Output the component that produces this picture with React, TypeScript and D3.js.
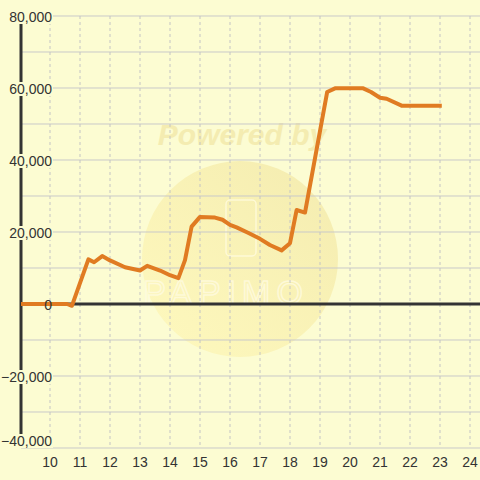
import React from "react";
import * as d3 from "d3";

const xs = [9.0, 10.57, 10.73, 11.28, 11.47, 11.74, 12.0, 12.5, 13.0, 13.24, 13.67, 14.0, 14.28, 14.5, 14.72, 15.0, 15.5, 15.75, 16.0, 16.22, 16.6, 17.0, 17.33, 17.72, 18.0, 18.22, 18.5, 19.24, 19.5, 20.0, 20.44, 20.7, 21.0, 21.22, 21.72, 22.0, 23.06];
const ys = [0, 0, -500, 12400, 11600, 13300, 12100, 10200, 9300, 10600, 9300, 8000, 7200, 12200, 21500, 24200, 24000, 23400, 22000, 21300, 19800, 18100, 16400, 14900, 16900, 26100, 25400, 58900, 59900, 59900, 59900, 58900, 57300, 57000, 55100, 55100, 55100];
const yTicks = [80000, 60000, 40000, 20000, 0, -20000, -40000];
const yMinor = [70000, 50000, 30000, 10000, -10000, -30000];
const xTicks = [10, 11, 12, 13, 14, 15, 16, 17, 18, 19, 20, 21, 22, 23, 24];

export default function App() {
  const W = 480, H = 480;
  const x = d3.scaleLinear().domain([10, 24]).range([50, 470]);
  const y = d3.scaleLinear().domain([-40000, 80000]).range([448, 16]);
  const fmt = d3.format(",");
  const data = xs.map((v, i) => [v, ys[i]] as [number, number]);
  const line = d3.line<[number, number]>().x(d => Math.max(x(d[0]), 21)).y(d => y(d[1]));
  const bg = "#fcfcd2";
  const font = "'Liberation Sans', Arial, sans-serif";
  const labelY = (t: number) => Math.min(y(t) + 1, 441);
  return (
    <svg width={W} height={H} style={{ position: "absolute", left: 0, top: 0 }} fontFamily={font}>
      <defs>
        <linearGradient id="wm" x1="0" y1="1" x2="1" y2="0">
          <stop offset="0" stopColor="#fff6b0" stopOpacity={0.6} />
          <stop offset="1" stopColor="#f1e6a4" stopOpacity={0.75} />
        </linearGradient>
      </defs>
      <rect x={0} y={0} width={W} height={H} fill={bg} />
      {/* watermark */}
      <circle cx={240} cy={259} r={98} fill="url(#wm)" />
      <text x={242} y={145} textAnchor="middle" fontSize={30} fontWeight="bold" fontStyle="italic" fill="#f4ecb0" opacity={0.95}>Powered by</text>
      <rect x={226} y={200} width={30} height={56} rx={4} fill="none" stroke="#fffbe0" strokeWidth={1.5} opacity={0.8} />
      <text x={226} y={304} textAnchor="middle" fontSize={34} fill="none" stroke="#fffbe0" strokeWidth={1.5} opacity={0.8} letterSpacing={6}>PAPIMO</text>
      {/* horizontal grid */}
      {yMinor.concat(yTicks).map(t => (
        <line key={"g" + t} x1={21} x2={W} y1={y(t)} y2={y(t)} stroke="#c9c9c9" strokeWidth={1} />
      ))}
      {/* vertical dashed grid */}
      {xTicks.map(t => (
        <line key={"v" + t} x1={x(t)} x2={x(t)} y1={16} y2={446} stroke="#c4c4c4" strokeWidth={1} strokeDasharray="3,3" />
      ))}
      {/* y axis */}
      <line x1={21} x2={21} y1={16} y2={440} stroke="#333" strokeWidth={3} />
      {/* zero line */}
      <line x1={21} x2={W} y1={y(0)} y2={y(0)} stroke="#333" strokeWidth={3} />
      {/* series */}
      <path d={line(data) || ""} fill="none" stroke="#e07b22" strokeWidth={4} strokeLinejoin="round" />
      {/* y labels */}
      {yTicks.map(t => (
        <g key={"l" + t}>
          {t !== 0 && <rect x={4} y={labelY(t) - 7} width={49} height={14} fill={bg} />}
          <text x={52} y={labelY(t) + 5} textAnchor="end" fontSize={14} fill="#333">{fmt(t)}</text>
        </g>
      ))}
      {/* x labels */}
      {xTicks.map(t => (
        <text key={"x" + t} x={x(t)} y={467} textAnchor="middle" fontSize={14} fill="#333">{t}</text>
      ))}
    </svg>
  );
}
